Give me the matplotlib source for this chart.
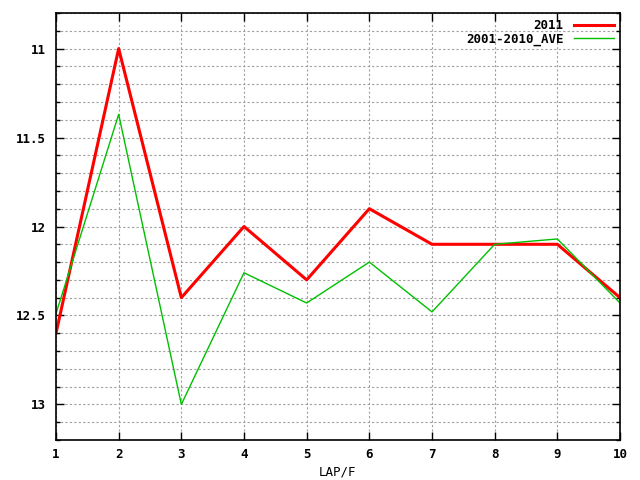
import matplotlib
matplotlib.use('Agg')
import matplotlib.pyplot as plt
from matplotlib.ticker import MultipleLocator

laps = [1, 2, 3, 4, 5, 6, 7, 8, 9, 10]
y2011 = [12.6, 11.0, 12.4, 12.0, 12.3, 11.9, 12.1, 12.1, 12.1, 12.4]
ave = [12.49, 11.37, 13.0, 12.26, 12.43, 12.2, 12.48, 12.1, 12.07, 12.43]

plt.rcParams['font.family'] = 'DejaVu Sans Mono'
plt.rcParams['font.weight'] = 'bold'
plt.rcParams['font.size'] = 9

fig = plt.figure(figsize=(6.4, 4.8), dpi=100)
ax = fig.add_axes([56/640, 40/480, 564/640, 427/480])

ax.plot(laps, y2011, color='#ff0000', lw=2.2, label='2011')
ax.plot(laps, ave, color='#00c000', lw=1.0, label='2001-2010_AVE')

ax.set_xlim(1, 10)
ax.set_ylim(13.2, 10.8)
ax.xaxis.set_major_locator(MultipleLocator(1))
ax.yaxis.set_major_locator(MultipleLocator(0.5))
ax.yaxis.set_minor_locator(MultipleLocator(0.1))
ax.set_yticklabels([], minor=True)
ax.yaxis.set_major_formatter(plt.FuncFormatter(lambda v, p: '%g' % v))

ax.grid(True, which='major', axis='x', color='#a0a0a0', ls=(0, (2, 2)), lw=0.8)
ax.grid(True, which='both', axis='y', color='#a0a0a0', ls=(0, (2, 2)), lw=0.8)
ax.tick_params(which='both', direction='in', top=True, right=True, width=1)
ax.tick_params(which='major', length=6)
ax.tick_params(axis='x', which='major', pad=6)
ax.tick_params(axis='y', which='major', pad=7)
ax.tick_params(which='minor', length=3)
for s in ax.spines.values():
    s.set_linewidth(1.2)

ax.set_xlabel('LAP/F', labelpad=3)
ax.legend(loc='upper right', frameon=False, markerfirst=False, handlelength=3.2,
          borderaxespad=0.1, labelspacing=0.0, handletextpad=0.8)

fig.savefig('out.png', dpi=100)
